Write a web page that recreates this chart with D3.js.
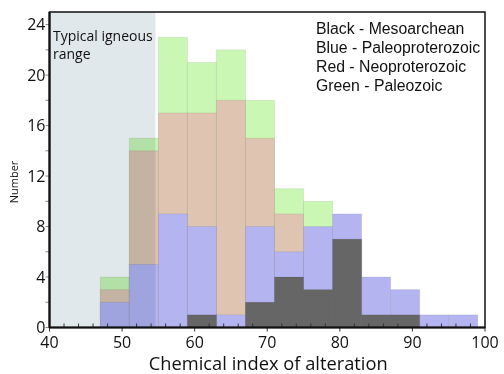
<!DOCTYPE html>
<html>
<head>
<meta charset="utf-8">
<script src="https://cdn.jsdelivr.net/npm/d3@7"></script>
<style>
  body { margin: 0; background: #fff; }
  text { font-family: "Open Sans", sans-serif; fill: #111; }
  .legend text { font-family: "Liberation Sans", Arial, sans-serif; }
</style>
</head>
<body>
<div id="chart"></div>
<script>
// bin edges (chemical index of alteration), 4 units wide
var binEdges = [47, 51, 55, 59, 63, 67, 71, 75, 79, 83, 87, 91, 95, 99];
// counts per bin, one array per period
var green = [4, 15, 23, 21, 22, 18, 11, 10, 0, 0, 0, 0, 0];
var red   = [3, 14, 17, 17, 18, 15, 9, 0, 0, 0, 0, 0, 0];
var blue  = [2, 5, 9, 8, 1, 8, 6, 8, 9, 4, 3, 1, 1];
var black = [0, 0, 0, 1, 0, 2, 4, 3, 7, 1, 1, 0, 0];
var legendLines = ['Black - Mesoarchean', 'Blue - Paleoproterozoic', 'Red - Neoproterozoic', 'Green - Paleozoic'];
var igneousRange = [40, 54.6];
var xTicks = [40, 50, 60, 70, 80, 90, 100];
var yTicks = [0, 4, 8, 12, 16, 20, 24];

var svg = d3.select('#chart').append('svg')
	.attr('width', 504)
	.attr('height', 374);

var pad = {t: 12, r: 19, b: 46.5, l: 49.5};
var w = 504 - pad.l - pad.r;
var h = 374 - pad.t - pad.b;

var x = d3.scaleLinear().domain([40, 100]).range([0, w]);
var y = d3.scaleLinear().domain([0, 25]).range([h, 0]);

var g = svg.append('g')
	.attr('transform', 'translate(' + [pad.l, pad.t] + ')');

// series drawn back to front
var series = [
	{vals: green, fill: '#cbf7b4'},
	{vals: red, fill: '#dfc5b1'},
	{vals: blue, fill: '#b4b4f1'},
	{vals: black, fill: '#666666'}
];

series.forEach(function(s) {
	g.append('g').selectAll('rect')
		.data(s.vals.map(function(v, i) { return {x0: binEdges[i], x1: binEdges[i + 1], v: v}; })
			.filter(function(d) { return d.v > 0; }))
		.enter()
		.append('rect')
		.attr('x', function(d) { return x(d.x0); })
		.attr('width', function(d) { return x(d.x1) - x(d.x0); })
		.attr('y', function(d) { return y(d.v); })
		.attr('height', function(d) { return y(0) - y(d.v); })
		.attr('fill', s.fill)
		.attr('stroke', 'rgba(0,0,0,0.08)')
		.attr('stroke-width', 1);
});

// igneous range shading, multiplied so bars under it darken a little
g.append('rect')
	.attr('x', x(igneousRange[0]))
	.attr('y', 0)
	.attr('width', x(igneousRange[1]) - x(igneousRange[0]))
	.attr('height', h)
	.attr('fill', '#e1e8eb')
	.style('mix-blend-mode', 'multiply');

// minor ticks
var xMinor = d3.range(40, 101, 2);
g.append('g').selectAll('line')
	.data(xMinor)
	.enter().append('line')
	.attr('x1', function(d) { return x(d); })
	.attr('x2', function(d) { return x(d); })
	.attr('y1', h)
	.attr('y2', function(d) { return d % 10 === 0 ? h + 4 : h - 4; })
	.attr('stroke', '#333')
	.attr('stroke-width', 1);

var yMinor = d3.range(0, 25, 2);
g.append('g').selectAll('line')
	.data(yMinor)
	.enter().append('line')
	.attr('x1', -4)
	.attr('x2', 0)
	.attr('y1', function(d) { return y(d); })
	.attr('y2', function(d) { return y(d); })
	.attr('stroke', '#888')
	.attr('stroke-width', 1);

// frame
g.append('rect')
	.attr('width', w)
	.attr('height', h)
	.attr('fill', 'none')
	.attr('stroke', '#111')
	.attr('stroke-width', 1.5);
g.append('line').attr('x1', 0).attr('x2', 0).attr('y1', 0).attr('y2', h)
	.attr('stroke', '#111').attr('stroke-width', 2.2);
g.append('line').attr('x1', 0).attr('x2', w).attr('y1', h).attr('y2', h)
	.attr('stroke', '#111').attr('stroke-width', 2.2);

// tick labels
g.append('g').selectAll('text')
	.data(xTicks)
	.enter().append('text')
	.attr('x', function(d) { return x(d); })
	.attr('y', h + 20.5)
	.attr('text-anchor', 'middle')
	.style('font-size', '16px')
	.text(function(d) { return d; });

g.append('g').selectAll('text')
	.data(yTicks)
	.enter().append('text')
	.attr('x', -4)
	.attr('y', function(d) { return y(d) + 5.5; })
	.attr('text-anchor', 'end')
	.style('font-size', '16px')
	.text(function(d) { return d; });

// axis titles
svg.append('text')
	.attr('x', pad.l + w / 2 + 1)
	.attr('y', 370)
	.attr('text-anchor', 'middle')
	.style('font-size', '18.3px')
	.text('Chemical index of alteration');

svg.append('text')
	.attr('transform', 'translate(18,182) rotate(-90)')
	.attr('text-anchor', 'middle')
	.style('font-size', '11px')
	.text('Number');

// igneous label
var ign = svg.append('text')
	.attr('x', 53)
	.style('font-size', '14px');
ign.append('tspan').attr('x', 53).attr('y', 41).text('Typical igneous');
ign.append('tspan').attr('x', 53).attr('y', 58.5).text('range');

// legend
svg.append('g').attr('class', 'legend').selectAll('text')
	.data(legendLines)
	.enter().append('text')
	.attr('x', 316)
	.attr('y', function(d, i) { return 34 + i * 19; })
	.style('font-size', '15.8px')
	.text(function(d) { return d; });
</script>
</body>
</html>
